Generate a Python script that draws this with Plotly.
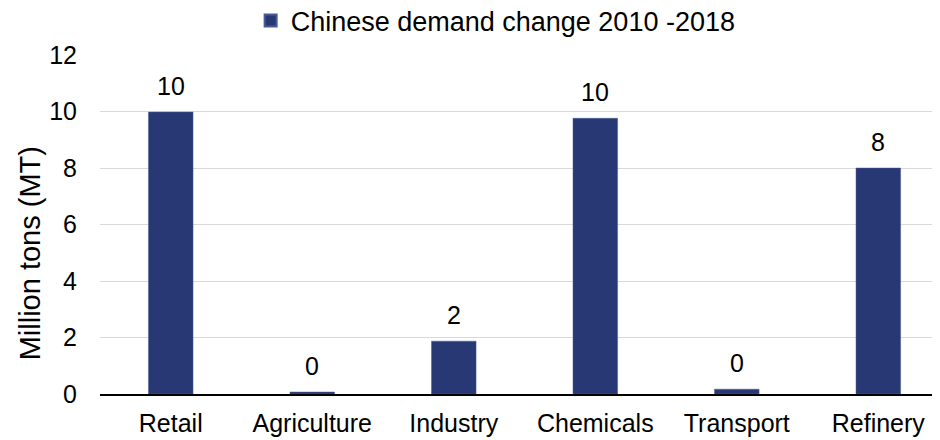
import plotly.graph_objects as go

categories = ["Retail", "Agriculture", "Industry", "Chemicals", "Transport", "Refinery"]
values = [9.98, 0.07, 1.87, 9.76, 0.17, 8.0]
series_name = "Chinese demand change 2010 -2018"
y_ticks = [0, 2, 4, 6, 8, 10, 12]
y_title = "Million tons (MT)"

FONT = "Liberation Sans, Arial, sans-serif"
FS = 25

fig = go.Figure()
fig.add_trace(go.Bar(
    x=categories, y=values, name=series_name,
    marker=dict(color="#283874", line=dict(color="#4a5a94", width=0.5)),
    width=0.315,
))

for c, v in zip(categories, values):
    fig.add_annotation(
        x=c, y=v, text=f"{v:.0f}", showarrow=False,
        yanchor="bottom", yshift=10,
        font=dict(size=FS, color="#000000", family=FONT),
    )

# y-axis title placed as a rotated annotation (sits below the axis centre in the reference)
fig.add_annotation(
    xref="paper", yref="paper", x=0, y=0.415, xshift=-70,
    xanchor="center", yanchor="middle", textangle=-90,
    text=y_title, showarrow=False,
    font=dict(size=29, color="#000000", family=FONT),
)

# page body adds an 8px offset; figure sized so the picture matches 940x440
fig.update_layout(
    width=932, height=432,
    margin=dict(l=92, r=0, t=47, b=46),
    paper_bgcolor="white", plot_bgcolor="white",
    font=dict(family=FONT, size=FS, color="#000000"),
    showlegend=True,
    legend=dict(orientation="h", x=0.471, xanchor="center", xref="paper",
                y=0.97, yanchor="middle", yref="container",
                font=dict(size=27), itemwidth=30, bgcolor="rgba(0,0,0,0)",
                itemsizing="constant"),
)
fig.update_yaxes(
    range=[0, 12], tickvals=y_ticks, showgrid=True, gridcolor="#d9d9d9", gridwidth=1,
    zeroline=False, showline=False, ticks="", ticklabelstandoff=22, automargin=False,
    tickfont=dict(size=FS),
)
fig.update_xaxes(
    range=[-0.5, 5.436],
    showline=True, linecolor="#000000", linewidth=1.5, ticks="", automargin=False,
    tickfont=dict(size=25), ticklabelstandoff=6,
)

fig.write_html("out.html")
